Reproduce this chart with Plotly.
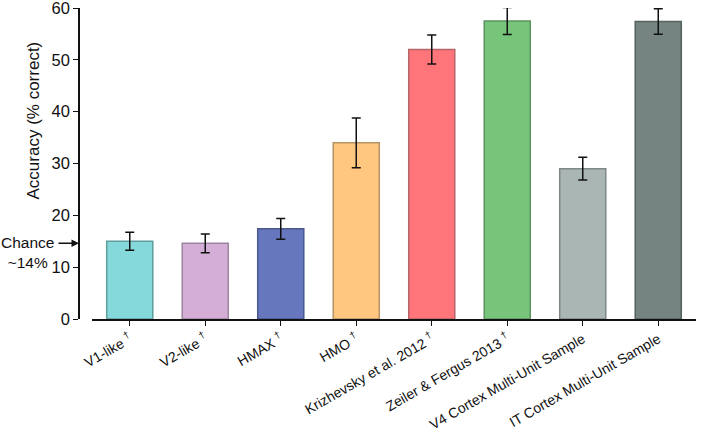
import plotly.graph_objects as go

categories = ["V1-like <sup>†</sup>", "V2-like <sup>†</sup>", "HMAX <sup>†</sup>", "HMO <sup>†</sup>",
              "Krizhevsky et al. 2012 <sup>†</sup>", "Zeiler & Fergus 2013 <sup>†</sup>",
              "V4 Cortex Multi-Unit Sample", "IT Cortex Multi-Unit Sample"]
accuracy = [15.0, 14.6, 17.4, 34.0, 52.0, 57.5, 29.0, 57.4]
errors = [1.75, 1.8, 2.0, 4.8, 2.8, 2.6, 2.2, 2.45]
colors = ["#86d9da", "#d4aed6", "#6677bd", "#ffc77f", "#ff757a", "#76c57a", "#aab6b4", "#758480"]
edges = ["#5f9d9e", "#9c869f", "#4a5790", "#b59364", "#b5646a", "#5c935f", "#7f8887", "#566260"]
y_ticks = [0, 10, 20, 30, 40, 50, 60]

fig = go.Figure()
fig.add_trace(go.Bar(
    x=list(range(len(categories))), y=accuracy, width=0.61,
    marker=dict(color=colors, line=dict(color=edges, width=1.5)),
    error_y=dict(type="data", array=errors, color="#111111", thickness=1.5, width=4.5),
    cliponaxis=False,
))

W, H = 703, 432
l, r, t, b = 79, 7, 8, 113
pw = W - l - r
fig.update_layout(
    width=W, height=H,
    margin=dict(l=l, r=r, t=t, b=b, autoexpand=False),
    plot_bgcolor="white", paper_bgcolor="white",
    showlegend=False,
    font=dict(family="Liberation Sans, Arial, sans-serif", color="#111111"),
    xaxis=dict(
        domain=[(92 - l) / pw, 1],
        range=[-0.5, 7.5],
        tickmode="array", tickvals=list(range(len(categories))), ticktext=categories,
        tickangle=-30, tickfont=dict(size=14), ticklabeloverflow="allow",
        showline=True, linecolor="#111111", linewidth=1.5,
        ticks="outside", ticklen=5, tickcolor="#111111", tickwidth=1,
        showgrid=False, zeroline=False,
    ),
    yaxis=dict(
        anchor="free", position=0,
        range=[0, 60],
        tickmode="array", tickvals=y_ticks,
        tickfont=dict(size=16.5), ticklabeloverflow="allow",
        showline=True, linecolor="#111111", linewidth=1.5,
        ticks="outside", ticklen=5, tickcolor="#111111", tickwidth=1,
        showgrid=False, zeroline=False,
    ),
)

fig.add_annotation(
    xref="paper", yref="y", x=(33 - l) / pw, y=38.3, xanchor="center", yanchor="middle",
    text="Accuracy (% correct)", textangle=-90, showarrow=False,
    font=dict(size=17, color="#111111"),
)
fig.add_annotation(
    xref="paper", yref="y", x=0, y=14.6, ax=-22, ay=0,
    axref="pixel", ayref="pixel",
    text="", showarrow=True, arrowhead=2, arrowsize=1, arrowwidth=1.5, arrowcolor="#111111",
)
fig.add_annotation(
    xref="paper", yref="y", x=0, y=14.6, xshift=-23, yshift=-9,
    text="Chance<br>~14%", showarrow=False, xanchor="right",
    align="center", font=dict(size=15.5, color="#111111"),
)

fig.write_html("out.html")
